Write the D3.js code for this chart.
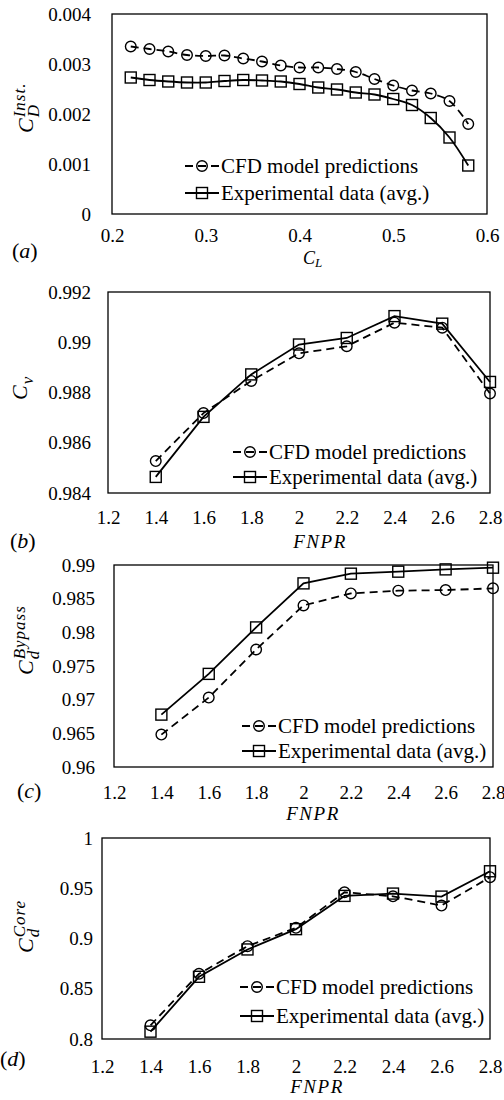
<!DOCTYPE html>
<html>
<head>
<meta charset="utf-8">
<script src="https://cdn.jsdelivr.net/npm/d3@7"></script>
<style>
  body { margin: 0; background: #fff; }
  svg text { font-family: "Liberation Serif", "DejaVu Serif", "Times New Roman", serif; fill: #000; }
</style>
</head>
<body>
<svg width="504" height="1100"></svg>
<script>
// ---- data ----
var clValues = [0.22, 0.24, 0.26, 0.28, 0.30, 0.32, 0.34, 0.36, 0.38, 0.40,
                0.42, 0.44, 0.46, 0.48, 0.50, 0.52, 0.54, 0.56, 0.58];
var cfdA = [0.00335, 0.00330, 0.00325, 0.00318, 0.00316, 0.00317, 0.00311, 0.00305, 0.00297, 0.00293,
            0.00293, 0.00290, 0.00284, 0.00270, 0.00257, 0.00247, 0.00241, 0.00226, 0.00180];
var expA = [0.00273, 0.00268, 0.00265, 0.00263, 0.00263, 0.00266, 0.00268, 0.00267, 0.00265, 0.00260,
            0.00253, 0.00249, 0.00243, 0.00239, 0.00230, 0.00218, 0.00192, 0.00153, 0.00097];

var fnpr = [1.4, 1.6, 1.8, 2.0, 2.2, 2.4, 2.6, 2.8];
var cfdB = [0.98527, 0.98718, 0.98846, 0.98956, 0.98984, 0.99078, 0.99058, 0.98796];
var expB = [0.98464, 0.98703, 0.98872, 0.98991, 0.99017, 0.99104, 0.99074, 0.98842];
var cfdC = [0.96481, 0.97031, 0.97745, 0.98400, 0.98578, 0.98618, 0.98628, 0.98653];
var expC = [0.96778, 0.97383, 0.98073, 0.98727, 0.98871, 0.98901, 0.98935, 0.98960];
var cfdD = [0.8136, 0.8649, 0.8924, 0.9106, 0.9460, 0.9420, 0.9328, 0.9610];
var expD = [0.8073, 0.8619, 0.8891, 0.9093, 0.9424, 0.9447, 0.9417, 0.9669];

var xTicksA = [0.2, 0.3, 0.4, 0.5, 0.6];
var yTicksA = [0, 0.001, 0.002, 0.003, 0.004];
var xTicksF = [1.2, 1.4, 1.6, 1.8, 2, 2.2, 2.4, 2.6, 2.8];
var yTicksB = [0.984, 0.986, 0.988, 0.99, 0.992];
var yTicksC = [0.96, 0.965, 0.97, 0.975, 0.98, 0.985, 0.99];
var yTicksD = [0.8, 0.85, 0.9, 0.95, 1];

var legendNames = ["CFD model predictions", "Experimental data (avg.)"];

// ---- layout of the four panels ----
var panels = [
  { L: 112, T: 14, R: 487, B: 214, xd: [0.2, 0.6], yd: [0, 0.004],
    xs: clValues, cfd: cfdA, exp: expA, xt: xTicksA, yt: yTicksA, smooth: true,
    ypad: 21, xlab: 28, legX: 185, legY: [166, 193],
    ylab: { x: 33, y: 133, sup: "Inst.", sub: "D" },
    xtitle: { x: 312, y: 264, main: "C", sub: "L" },
    tag: { x: 12, y: 258, t: "a" } },
  { L: 108, T: 292, R: 490, B: 493, xd: [1.2, 2.8], yd: [0.984, 0.992],
    xs: fnpr, cfd: cfdB, exp: expB, xt: xTicksF, yt: yTicksB, smooth: false,
    ypad: 17, xlab: 31, legX: 233, legY: [452, 477],
    ylab: { x: 27, y: 400, sup: "", sub: "v" },
    xtitle: { x: 320, y: 548, fnpr: true },
    tag: { x: 10, y: 548, t: "b" } },
  { L: 114, T: 565, R: 493, B: 767, xd: [1.2, 2.8], yd: [0.96, 0.99],
    xs: fnpr, cfd: cfdC, exp: expC, xt: xTicksF, yt: yTicksC, smooth: false,
    ypad: 19, xlab: 32, legX: 242, legY: [726, 751],
    ylab: { x: 33, y: 675, sup: "Bypass", sub: "d" },
    xtitle: { x: 313, y: 820, fnpr: true },
    tag: { x: 17, y: 798, t: "c" } },
  { L: 102, T: 838, R: 490, B: 1039, xd: [1.2, 2.8], yd: [0.8, 1],
    xs: fnpr, cfd: cfdD, exp: expD, xt: xTicksF, yt: yTicksD, smooth: false,
    ypad: 9, xlab: 34, legX: 240, legY: [987, 1016],
    ylab: { x: 33, y: 953, sup: "Core", sub: "d" },
    xtitle: { x: 317, y: 1093, fnpr: true },
    tag: { x: 0, y: 1066, t: "d" } }
];

var serif = "'Liberation Serif', 'DejaVu Serif', 'Times New Roman', serif";

var svg = d3.select("svg");
svg.append("rect").attr("width", 504).attr("height", 1100).attr("fill", "#fff");

var dash = "8,5",
    lineW = 1.8,
    tickFont = 19,
    legFont = 21;

panels.forEach(function(p) {
  var x = d3.scaleLinear().domain(p.xd).range([p.L, p.R]);
  var y = d3.scaleLinear().domain(p.yd).range([p.B, p.T]);
  var g = svg.append("g").attr("font-family", serif);

  // frame
  g.append("rect")
    .attr("x", p.L).attr("y", p.T)
    .attr("width", p.R - p.L).attr("height", p.B - p.T)
    .attr("fill", "none").attr("stroke", "#000").attr("stroke-width", 1.3);

  // y axis labels
  var ya = g.append("g").attr("transform", "translate(" + p.L + ",0)")
    .call(d3.axisLeft(y).tickValues(p.yt).tickSize(0).tickPadding(p.ypad)
      .tickFormat(function(d) { return String(+d.toFixed(4)); }));
  ya.attr("font-family", serif).attr("font-size", tickFont);
  ya.select(".domain").remove();

  // x axis labels
  var xa = g.append("g").attr("transform", "translate(0," + p.B + ")")
    .call(d3.axisBottom(x).tickValues(p.xt).tickSize(0)
      .tickFormat(function(d) { return String(+d.toFixed(2)); }));
  xa.attr("font-family", serif).attr("font-size", tickFont);
  xa.select(".domain").remove();
  xa.selectAll("text").attr("y", p.xlab).attr("dy", 0);

  var line = d3.line()
    .x(function(d) { return x(d[0]); })
    .y(function(d) { return y(d[1]); })
    .curve(p.smooth ? d3.curveCatmullRom.alpha(0.5) : d3.curveLinear);

  var cfdPts = p.xs.map(function(v, i) { return [v, p.cfd[i]]; });
  var expPts = p.xs.map(function(v, i) { return [v, p.exp[i]]; });

  g.append("path").datum(cfdPts).attr("d", line)
    .attr("fill", "none").attr("stroke", "#000").attr("stroke-width", lineW)
    .attr("stroke-dasharray", dash);
  g.append("path").datum(expPts).attr("d", line)
    .attr("fill", "none").attr("stroke", "#000").attr("stroke-width", lineW);

  g.selectAll("circle.cfd").data(cfdPts).enter().append("circle")
    .attr("class", "cfd")
    .attr("cx", function(d) { return x(d[0]); })
    .attr("cy", function(d) { return y(d[1]); })
    .attr("r", 5.3)
    .attr("fill", "none").attr("stroke", "#000").attr("stroke-width", 1.4);
  g.selectAll("rect.exp").data(expPts).enter().append("rect")
    .attr("class", "exp")
    .attr("x", function(d) { return x(d[0]) - 5.5; })
    .attr("y", function(d) { return y(d[1]) - 5.5; })
    .attr("width", 11).attr("height", 11)
    .attr("fill", "none").attr("stroke", "#000").attr("stroke-width", 1.4);

  // legend
  var lx = p.legX, mx = lx + 17;
  g.append("line").attr("x1", lx).attr("x2", lx + 34)
    .attr("y1", p.legY[0]).attr("y2", p.legY[0])
    .attr("stroke", "#000").attr("stroke-width", lineW).attr("stroke-dasharray", dash);
  g.append("circle").attr("cx", mx).attr("cy", p.legY[0]).attr("r", 5.3)
    .attr("fill", "none").attr("stroke", "#000").attr("stroke-width", 1.4);
  g.append("line").attr("x1", lx).attr("x2", lx + 34)
    .attr("y1", p.legY[1]).attr("y2", p.legY[1])
    .attr("stroke", "#000").attr("stroke-width", lineW);
  g.append("rect").attr("x", mx - 5.5).attr("y", p.legY[1] - 5.5)
    .attr("width", 11).attr("height", 11)
    .attr("fill", "none").attr("stroke", "#000").attr("stroke-width", 1.4);
  legendNames.forEach(function(name, i) {
    g.append("text").attr("x", lx + 36).attr("y", p.legY[i] + 7)
      .attr("font-size", legFont).text(name);
  });

  // y axis title (rotated, with sub/superscript)
  var yl = g.append("g")
    .attr("transform", "translate(" + p.ylab.x + "," + p.ylab.y + ") rotate(-90)");
  var cMain = yl.append("text").attr("font-size", 22).attr("font-style", "italic").text("C");
  var cw = cMain.node().getComputedTextLength() + 1;
  if (p.ylab.sup) {
    yl.append("text").attr("x", cw).attr("y", -8).attr("font-size", 17)
      .attr("font-style", "italic").attr("letter-spacing", 1).text(p.ylab.sup);
  }
  yl.append("text").attr("x", cw).attr("y", 6).attr("font-size", 17)
    .attr("font-style", "italic").text(p.ylab.sub);

  // x axis title
  if (p.xtitle.fnpr) {
    g.append("text").attr("x", p.xtitle.x).attr("y", p.xtitle.y)
      .attr("text-anchor", "middle").attr("font-size", 19)
      .attr("font-style", "italic").attr("letter-spacing", 1.5).text("FNPR");
  } else {
    var xt = g.append("text").attr("x", p.xtitle.x - 9).attr("y", p.xtitle.y)
      .attr("font-size", 18).attr("font-style", "italic");
    xt.append("tspan").text(p.xtitle.main);
    xt.append("tspan").attr("font-size", 13).attr("dy", 3).text(p.xtitle.sub);
  }

  // panel tag
  var tg = g.append("text").attr("x", p.tag.x).attr("y", p.tag.y).attr("font-size", 22);
  tg.append("tspan").text("(");
  tg.append("tspan").attr("font-style", "italic").text(p.tag.t);
  tg.append("tspan").text(")");
});
</script>
</body>
</html>
